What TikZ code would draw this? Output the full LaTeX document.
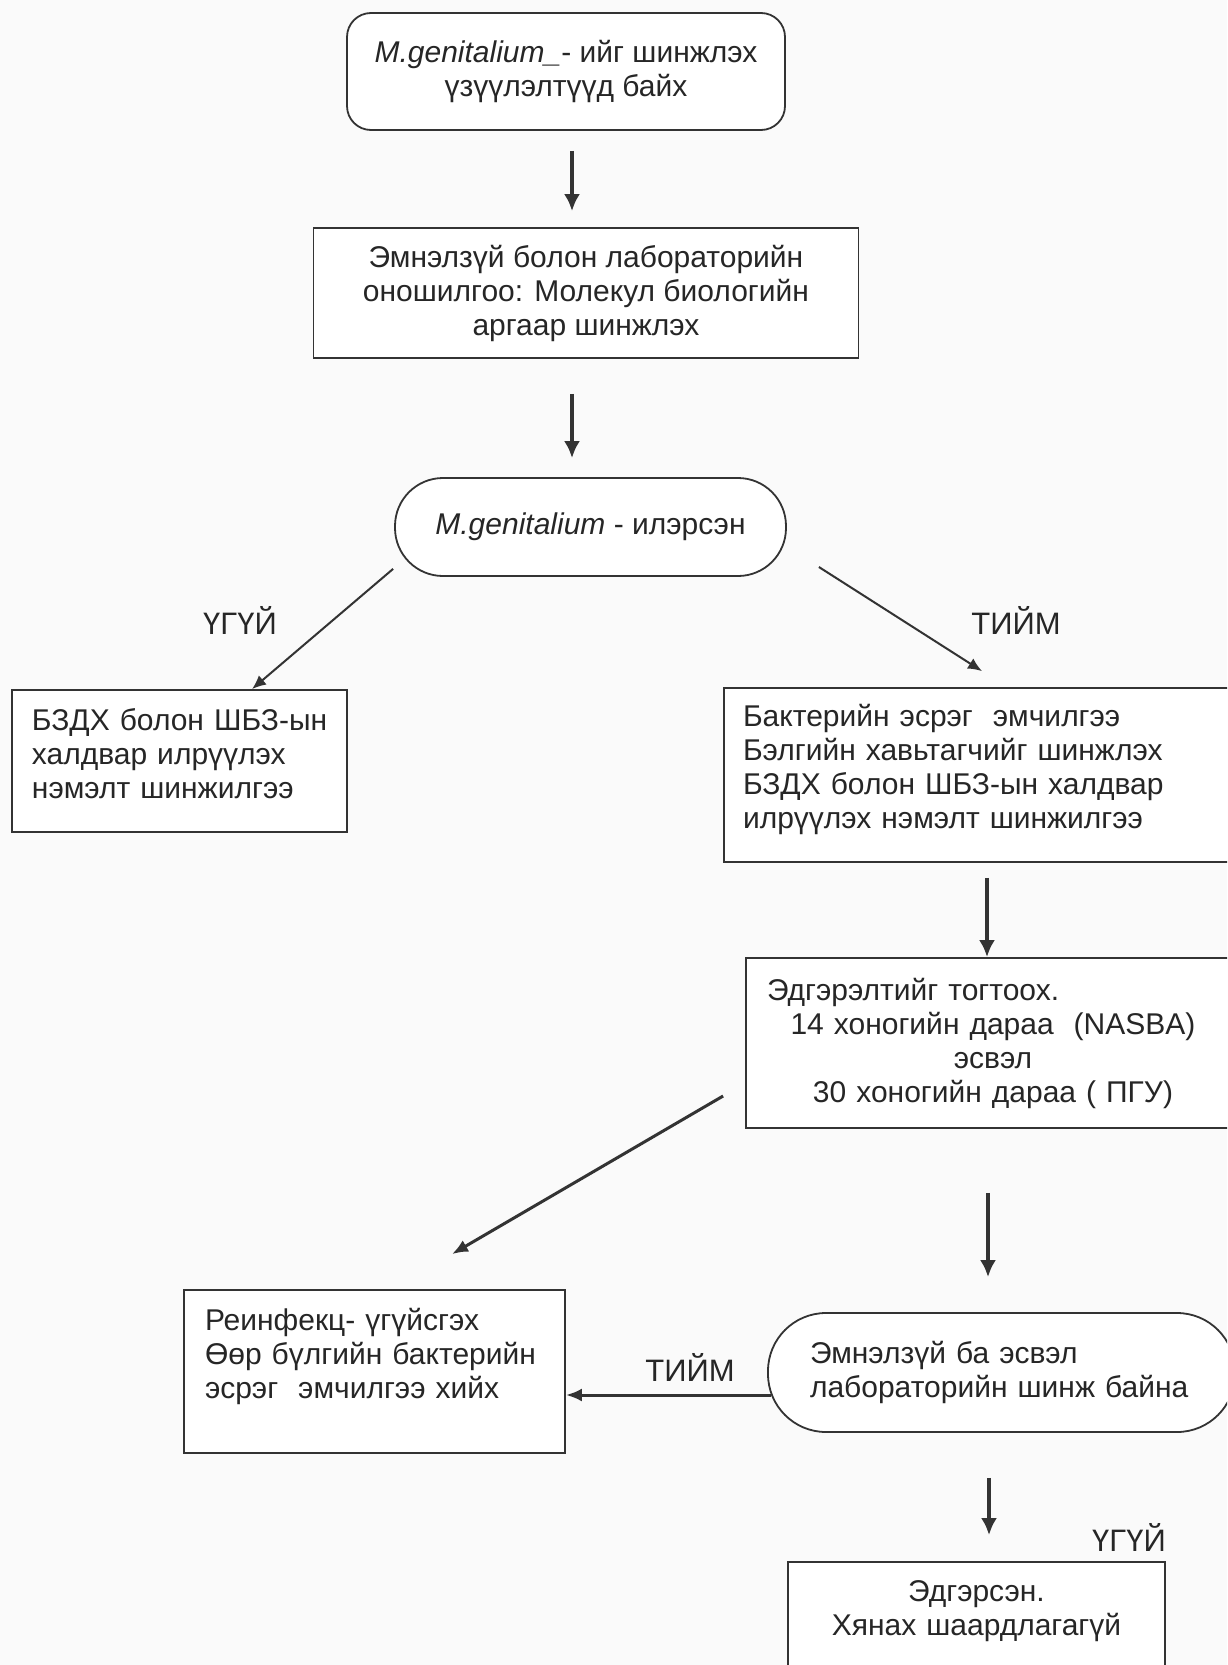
\documentclass[tikz,border=0pt]{standalone}
\usepackage{fontspec}
\setmainfont{Liberation Sans}
\usepackage{tikz}
\usetikzlibrary{
    arrows.meta,
    calc,
}
\tikzstyle{arrow}=[-{Latex[length=8.5pt, width=8pt]}, line width=1.9pt]
\tikzstyle{slantarrow}=[-{Latex[length=8pt, width=6.5pt]}, line width=1.5pt]
\tikzstyle{thinarrow}=[-{Latex[length=7pt, width=6pt]}, line width=1pt]
\tikzset{
    box/.style={draw, rectangle, fill=white, line width=0.9pt},
    stadium/.style={draw, rectangle, fill=white, line width=0.9pt},
    answer/.style={font=\fontsize{15.5}{18}\selectfont},
}

\begin{document}
\begin{tikzpicture}[x=0.5pt, y=-0.5pt, draw=black!80,
        every node/.style={font=\fontsize{15}{17}\selectfont, text=black!85}]
    \useasboundingbox (0,0) rectangle (1227,1665);
    \clip (0,0) rectangle (1227,1665);
    \fill[gray!4] (0,0) rectangle (1227,1665);

    % main column
    \node[box, rounded corners=12pt, minimum width=219pt, minimum height=58.5pt, align=center] (look) at (566,71.5)
        {\textit{M.genitalium\_}- ийг шинжлэх\\үзүүлэлтүүд байх};
    \node[box, minimum width=272.5pt, minimum height=65pt, align=center] (diag) at (586,293)
        {Эмнэлзүй болон лабораторийн\\оношилгоо: Молекул биологийн\\аргаар шинжлэх};
    \node[stadium, rounded corners=24pt, minimum width=195.5pt, minimum height=49pt] (found) at (590.5,527)
        {\textit{M.genitalium} - илэрсэн};

    % branches
    \node[box, inner xsep=10pt, text width=147.5pt, minimum height=71pt, text depth=42pt, align=left] (other) at (179.5,761)
        {\mbox{БЗДХ болон ШБЗ-ын}\\халдвар илрүүлэх\\нэмэлт шинжилгээ};
    \node[box, inner xsep=9.5pt, text width=239pt, minimum height=87pt, text depth=60pt, align=left] (treat) at (982,775)
        {Бактерийн эсрэг\ \ эмчилгээ\\Бэлгийн хавьтагчийг шинжлэх\\БЗДХ болон ШБЗ-ын халдвар\\илрүүлэх нэмэлт шинжилгээ};
    \node[box, inner xsep=10.5pt, text width=226pt, minimum height=85pt, align=center] (cure) at (993,1043)
        {\makebox[\linewidth][l]{Эдгэрэлтийг тогтоох.}\\14 хоногийн дараа\ \ (NASBA)\\эсвэл\\30 хоногийн дараа ( ПГУ)};
    \node[box, inner xsep=10.5pt, text width=169.5pt, minimum height=81.5pt, text depth=52pt, align=left] (reinf) at (374.5,1371.5)
        {Реинфекц- үгүйсгэх\\Өөр бүлгийн бактерийн\\эсрэг\ \ эмчилгээ хийх};
    \node[stadium, rounded corners=29pt, inner xsep=21pt, text width=191.5pt, minimum height=59.5pt, align=left] (signs) at (1001.5,1372.5)
        {Эмнэлзүй ба эсвэл\\\mbox{лабораторийн шинж байна}};
    \node[box, text width=170pt, minimum width=188.5pt, minimum height=59pt, text depth=30pt, align=center] (healed) at (976.5,1621)
        {Эдгэрсэн.\\Хянах шаардлагагүй};

    % answers
    \node[answer] (no1) at (240,620) {ҮГҮЙ};
    \node[answer] (yes1) at (1016,620) {ТИЙМ};
    \node[answer] (yes2) at (690,1367) {ТИЙМ};
    \node[answer] (no2) at (1129,1537) {ҮГҮЙ};

    % connectors
    \draw[arrow] ($(look.south)+(6,20)$) -- ($(diag.north)+(-14,-16)$);
    \draw[arrow] ($(diag.south)+(-14,35)$) -- ($(found.north)+(-18.5,-19)$);
    \draw[thinarrow] ($(found.south west)+(-1,-8)$) -- ($(other.north)+(72.5,0)$);
    \draw[thinarrow] ($(found.east)+(32,40)$) -- ($(treat.north)+(0,-16)$);
    \draw[arrow] ($(treat.south)+(5,15)$) -- ($(cure.north)+(-6,0)$);
    \draw[slantarrow] ($(cure.west)+(-22,53)$) -- ($(reinf.north)+(77.5,-35)$);
    \draw[arrow] ($(cure.south)+(-5,64)$) -- ($(signs.north)+(-13.5,-35)$);
    \draw[slantarrow] ($(signs.west)+(4,22.5)$) -- ($(reinf.east)+(0,23.5)$);
    \draw[arrow] ($(signs.south)+(-12.5,45)$) -- ($(healed.north)+(12.5,-26)$);
\end{tikzpicture}
\end{document}
